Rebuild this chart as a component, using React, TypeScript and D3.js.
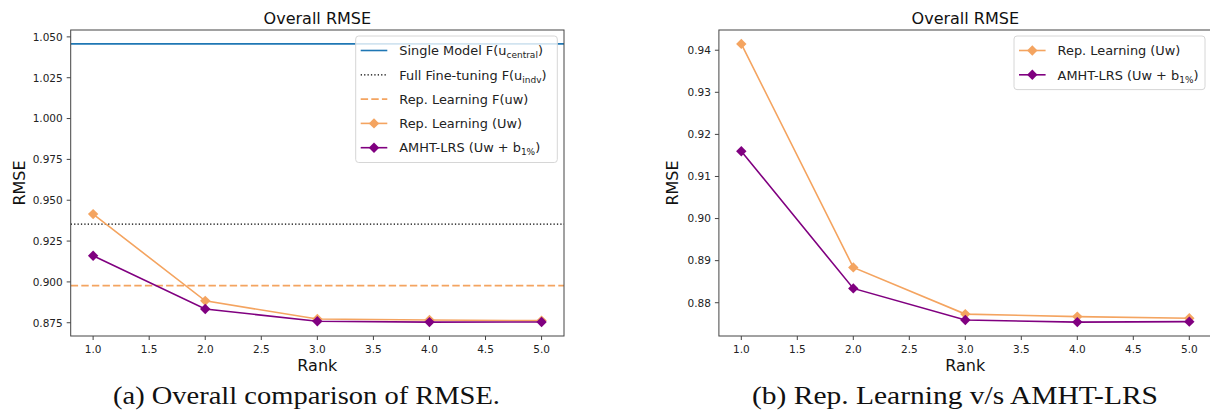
import React from 'react';
import * as d3 from 'd3';

// values
const ranks = [1, 2, 3, 4, 5];
const repLearningUw = [0.9415, 0.8884, 0.8773, 0.8767, 0.8763];
const amhtLrs = [0.916, 0.8834, 0.8759, 0.8754, 0.8755];
const singleModel = 1.0457;
const fullFineTuning = 0.9354;
const repLearningFuw = 0.8977;

const xTicks = [1.0, 1.5, 2.0, 2.5, 3.0, 3.5, 4.0, 4.5, 5.0];
const leftYTicks = [0.875, 0.9, 0.925, 0.95, 0.975, 1.0, 1.025, 1.05];
const rightYTicks = [0.88, 0.89, 0.9, 0.91, 0.92, 0.93, 0.94];

const BLUE = '#1f77b4';
const ORANGE = '#f4a460';
const PURPLE = '#800080';
const FONT = 'DejaVu Sans, sans-serif';
const SERIF = 'Liberation Serif, DejaVu Serif, serif';

const top = 30;
const bottom = 336;

// matplotlib style 5% autoscale margin
const pad = (lo: number, hi: number): [number, number] => {
  const m = (hi - lo) * 0.05;
  return [lo - m, hi + m];
};

const diamond = (r: number) => `M0,${-r}L${r},0L0,${r}L${-r},0Z`;

type Entry = {
  label: React.ReactNode;
  color: string;
  dash?: string;
  width: number;
  marker?: boolean;
};

const Sub: React.FC<{ t: string }> = ({ t }) => (
  <>
    <tspan fontSize={9} dy={3}>{t}</tspan>
    <tspan dy={-3}>)</tspan>
  </>
);

const repEntry: Entry = { label: <>Rep. Learning (Uw)</>, color: ORANGE, width: 1.6, marker: true };
const amhtEntry: Entry = {
  label: <>AMHT-LRS (Uw + b<Sub t="1%" /></>,
  color: PURPLE,
  width: 1.6,
  marker: true,
};
const leftEntries: Entry[] = [
  { label: <>Single Model F(u<Sub t="central" /></>, color: BLUE, width: 1.6 },
  { label: <>Full Fine-tuning F(u<Sub t="indv" /></>, color: '#000', width: 1.3, dash: '1.3,2.1' },
  { label: <>Rep. Learning F(uw)</>, color: ORANGE, width: 1.8, dash: '7.4,3.2' },
  repEntry,
  amhtEntry,
];
const rightEntries: Entry[] = [repEntry, amhtEntry];

const Legend: React.FC<{ right: number; y0: number; w: number; entries: Entry[] }> = ({ right, y0, w, entries }) => {
  const rowH = 24.3;
  const h = entries.length * rowH + 5;
  const x0 = right - w;
  return (
    <g fontFamily={FONT}>
      <rect x={x0} y={y0} width={w} height={h} rx={3} fill="#fff" fillOpacity={0.8} stroke="#d6d6d6" strokeWidth={1} />
      {entries.map((e, i) => {
        const cy = y0 + 14.5 + i * rowH;
        return (
          <g key={i}>
            <line x1={x0 + 5} x2={x0 + 31.6} y1={cy} y2={cy} stroke={e.color} strokeWidth={e.width} strokeDasharray={e.dash} />
            {e.marker && <path d={diamond(5.2)} transform={`translate(${x0 + 18.3},${cy})`} fill={e.color} />}
            <text x={x0 + 43.6} y={cy + 4.7} fontSize={12.9} fill="#222">{e.label}</text>
          </g>
        );
      })}
    </g>
  );
};

type PanelProps = {
  left: number;
  right: number;
  yTicks: number[];
  yFormat: (v: number) => string;
  yDomain: [number, number];
  hlines: { v: number; color: string; dash?: string; width: number }[];
  entries: Entry[];
  legendW: number;
  ylabelX: number;
};

const Panel: React.FC<PanelProps> = ({ left, right, yTicks, yFormat, yDomain, hlines, entries, legendW, ylabelX }) => {
  const x = d3.scaleLinear().domain(pad(1, 5)).range([left, right]);
  const y = d3.scaleLinear().domain(yDomain).range([bottom, top]);
  const line = d3
    .line<number>()
    .x((_, i) => x(ranks[i]))
    .y((d) => y(d));
  const series = [
    { values: repLearningUw, color: ORANGE },
    { values: amhtLrs, color: PURPLE },
  ];
  const clipId = `clip-${Math.round(left)}`;
  return (
    <g fontFamily={FONT}>
      <defs>
        <clipPath id={clipId}>
          <rect x={left} y={top} width={right - left} height={bottom - top} />
        </clipPath>
      </defs>
      <g clipPath={`url(#${clipId})`}>
        {hlines.map((h, i) => (
          <line key={i} x1={left} x2={right} y1={y(h.v)} y2={y(h.v)} stroke={h.color} strokeWidth={h.width} strokeDasharray={h.dash} />
        ))}
        {series.map((s, i) => (
          <g key={i}>
            <path d={line(s.values) ?? ''} fill="none" stroke={s.color} strokeWidth={1.6} />
            {s.values.map((v, j) => (
              <path key={j} d={diamond(5.2)} transform={`translate(${x(ranks[j])},${y(v)})`} fill={s.color} />
            ))}
          </g>
        ))}
      </g>
      <rect x={left} y={top} width={right - left} height={bottom - top} fill="none" stroke="#444" strokeWidth={1} />
      {xTicks.map((t) => (
        <g key={t} transform={`translate(${x(t)},${bottom})`}>
          <line y2={4} stroke="#444" />
          <text y={17} textAnchor="middle" fontSize={10.5} fill="#222">{t.toFixed(1)}</text>
        </g>
      ))}
      {yTicks.map((t) => (
        <g key={t} transform={`translate(${left},${y(t)})`}>
          <line x2={-4} stroke="#444" />
          <text x={-8} y={3.8} textAnchor="end" fontSize={10.5} fill="#222">{yFormat(t)}</text>
        </g>
      ))}
      <text x={(left + right) / 2} y={24} textAnchor="middle" fontSize={16} fill="#111">Overall RMSE</text>
      <text x={(left + right) / 2} y={371} textAnchor="middle" fontSize={16} fill="#111">Rank</text>
      <text transform={`translate(${ylabelX},${(top + bottom) / 2}) rotate(-90)`} textAnchor="middle" fontSize={16} fill="#111">RMSE</text>
      <Legend right={right - 6.7} y0={top + 6} w={legendW} entries={entries} />
    </g>
  );
};

const App: React.FC = () => {
  const leftAll = [...repLearningUw, ...amhtLrs, singleModel, fullFineTuning, repLearningFuw];
  const rightAll = [...repLearningUw, ...amhtLrs];
  const leftDomain = pad(d3.min(leftAll)!, d3.max(leftAll)!);
  const rightDomain = pad(d3.min(rightAll)!, d3.max(rightAll)!);
  return (
    <svg width={1210} height={411} style={{ position: 'absolute', left: 0, top: 0, background: '#fff' }}>
      <rect width={1210} height={411} fill="#fff" />
      <Panel
        left={70.7}
        right={564}
        yTicks={leftYTicks}
        yFormat={(v) => v.toFixed(3)}
        yDomain={leftDomain}
        hlines={[
          { v: singleModel, color: BLUE, width: 1.6 },
          { v: fullFineTuning, color: '#000', width: 1.3, dash: '1.3,2.1' },
          { v: repLearningFuw, color: ORANGE, width: 1.8, dash: '7.4,3.2' },
        ]}
        entries={leftEntries}
        legendW={201.6}
        ylabelX={25}
      />
      <Panel
        left={718.9}
        right={1211.7}
        yTicks={rightYTicks}
        yFormat={(v) => v.toFixed(2)}
        yDomain={rightDomain}
        hlines={[]}
        entries={rightEntries}
        legendW={191}
        ylabelX={678}
      />
      <text x={306.5} y={404} textAnchor="middle" fontFamily={SERIF} fontSize={26} fill="#111" textLength={387} lengthAdjust="spacingAndGlyphs">
        (a) Overall comparison of RMSE.
      </text>
      <text x={955} y={404} textAnchor="middle" fontFamily={SERIF} fontSize={26} fill="#111" textLength={406} lengthAdjust="spacingAndGlyphs">
        (b) Rep. Learning v/s AMHT-LRS
      </text>
    </svg>
  );
};

export default App;
